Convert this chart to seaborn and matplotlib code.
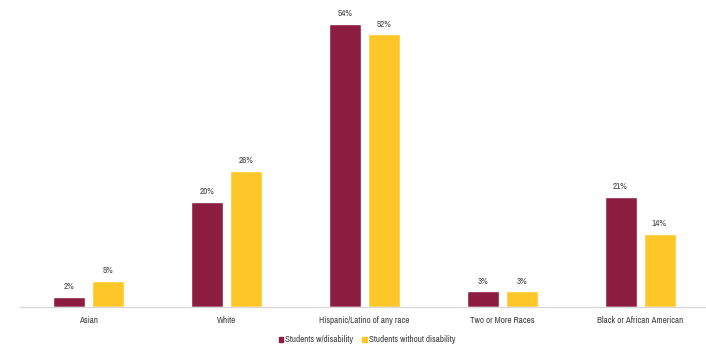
import matplotlib
matplotlib.use("Agg")
import matplotlib.pyplot as plt
import seaborn as sns
import pandas as pd
from matplotlib.patches import Patch
from matplotlib import font_manager as fm

categories = ["Asian", "White", "Hispanic/Latino of any race", "Two or More Races", "Black or African American"]
series_names = ["Students w/disability", "Students without disability"]
with_disability = [2, 20, 54, 3, 21]
without_disability = [5, 26, 52, 3, 14]
colors = ["#8C1D40", "#FFC627"]

df = pd.DataFrame({
    "cat": categories * 2,
    "series": [series_names[0]] * 5 + [series_names[1]] * 5,
    "value": with_disability + without_disability,
})

available = {f.name for f in fm.fontManager.ttflist}
preferred = ["Liberation Sans Narrow", "Arial Narrow", "Archivo Narrow",
             "Roboto Condensed", "Asap Condensed", "Barlow Semi Condensed"]
narrow = [n for n in preferred if n in available]

sns.set_theme(style="white")
plt.rcParams["font.family"] = narrow[:1] + ["Liberation Sans", "DejaVu Sans"]

fig = plt.figure(figsize=(7.06, 3.48), dpi=100)
ax = fig.add_axes([20/706, 41/348, 689/706, 297/348])
sns.barplot(data=df, x="cat", y="value", hue="series", palette=colors,
            width=0.566, gap=0.18, ax=ax, legend=False, saturation=1)
ax.set_ylim(0, 56.6)
ax.set_xlim(-0.5, 4.5)
ax.set_yticks([])
ax.set_xlabel("")
ax.set_ylabel("")
for s in ["top", "right", "left"]:
    ax.spines[s].set_visible(False)
ax.spines["bottom"].set_color("#D9D9D9")
ax.spines["bottom"].set_linewidth(1)
ax.tick_params(axis="x", length=0, labelsize=6.5, colors="#404040", pad=6.5)
for cont in ax.containers:
    ax.bar_label(cont, labels=[f"{v:.0f}%" for v in cont.datavalues],
                 fontsize=6.5, color="#404040", padding=4)

handles = [Patch(color=c, label=n) for c, n in zip(colors, series_names)]
fig.legend(handles=handles, loc="center", bbox_to_anchor=(367/706, 1 - 340/348),
           ncol=2, frameon=False, fontsize=6.5, handlelength=0.5, handleheight=0.5,
           handletextpad=0.2, columnspacing=1.0, labelcolor="#404040")
fig.savefig("out.png", dpi=100)
